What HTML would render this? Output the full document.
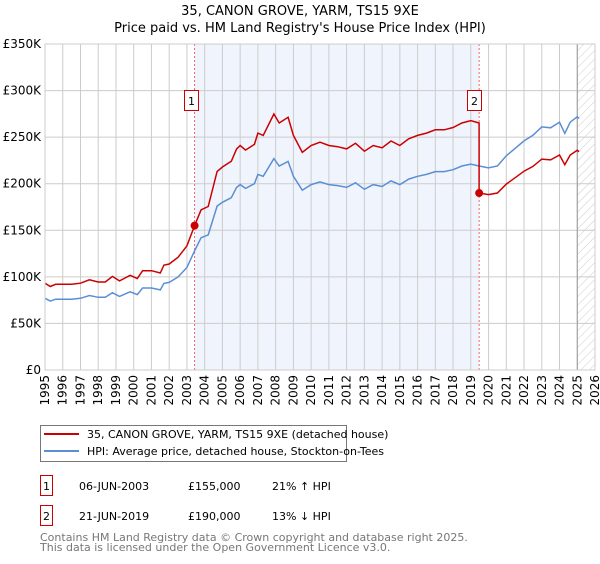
<!DOCTYPE html>
<html><head><meta charset="utf-8"><style>
body{margin:0;background:#fff;width:600px;height:560px;overflow:hidden;font-family:"DejaVu Sans","Liberation Sans",sans-serif;}
svg text{font-family:"DejaVu Sans","Liberation Sans",sans-serif;}
</style></head><body>
<svg id="c" width="600" height="560" xmlns="http://www.w3.org/2000/svg">
<defs><pattern id="hatch" width="6" height="6" patternUnits="userSpaceOnUse" patternTransform="rotate(45)"><line x1="0" y1="0" x2="0" y2="6" stroke="#ccc" stroke-width="1"/></pattern></defs>
<text x="300" y="15" text-anchor="middle" font-size="13">35, CANON GROVE, YARM, TS15 9XE</text>
<text x="300" y="32" text-anchor="middle" font-size="13">Price paid vs. HM Land Registry's House Price Index (HPI)</text>
<g id="plot"></g>
<g>
<rect x="40.5" y="425.5" width="306" height="36" fill="#fff" stroke="#777"/>
<line x1="44" y1="434" x2="79" y2="434" stroke="#cc0000" stroke-width="2"/>
<text x="87" y="438" font-size="11">35, CANON GROVE, YARM, TS15 9XE (detached house)</text>
<line x1="44" y1="451" x2="79" y2="451" stroke="#5b8fd4" stroke-width="2"/>
<text x="87" y="455" font-size="11">HPI: Average price, detached house, Stockton-on-Tees</text>
</g>
<g>
<rect x="40.5" y="475.5" width="12" height="20" fill="#fff" stroke="#cc0000"/>
<text x="46.5" y="490" text-anchor="middle" font-size="11">1</text>
<text x="79" y="490" font-size="11">06-JUN-2003</text>
<text x="188" y="490" font-size="11">£155,000</text>
<text x="272" y="490" font-size="11">21% ↑ HPI</text>
<rect x="40.5" y="505.5" width="12" height="20" fill="#fff" stroke="#cc0000"/>
<text x="46.5" y="520" text-anchor="middle" font-size="11">2</text>
<text x="79" y="520" font-size="11">21-JUN-2019</text>
<text x="188" y="520" font-size="11">£190,000</text>
<text x="272" y="520" font-size="11">13% ↓ HPI</text>
</g>
<text x="40" y="541" font-size="11" fill="#777">Contains HM Land Registry data © Crown copyright and database right 2025.</text>
<text x="40" y="551" font-size="11" fill="#777">This data is licensed under the Open Government Licence v3.0.</text>
</svg>
<script>
const hpiYears=[1995,1995.3,1995.6,1996,1996.5,1997,1997.5,1998,1998.4,1998.8,1999.2,1999.8,2000.2,2000.5,2001,2001.5,2001.7,2002,2002.5,2003,2003.43,2003.8,2004.2,2004.7,2005,2005.5,2005.8,2006,2006.3,2006.8,2007,2007.3,2007.9,2008.2,2008.7,2009,2009.5,2010,2010.5,2011,2011.5,2012,2012.5,2013,2013.5,2014,2014.5,2015,2015.5,2016,2016.5,2017,2017.5,2018,2018.5,2019,2019.47,2020,2020.5,2021,2021.5,2022,2022.5,2023,2023.5,2024,2024.3,2024.6,2025,2025.1];
const hpiValues=[77,74,76,76,76,77,80,78,78,83,79,84,81,88,88,86,93,94,100,110,128,142,145,176,180,185,196,199,195,200,210,208,227,219,224,208,193,199,202,199,198,196,201,194,199,197,203,199,205,208,210,213,213,215,219,221,219,217,219,230,238,246,252,261,260,266,254,266,272,270];
const saleYears=[2003.43,2019.47];
const salePrices=[155,190];
const yTicks=[0,50,100,150,200,250,300,350];
const yTickLabels=["£0","£50K","£100K","£150K","£200K","£250K","£300K","£350K"];
const xTicks=[];for(let y=1995;y<=2026;y++)xTicks.push(y);

const X0=45,X1=595,Y0=370,Y1=44;
const xs=t=>X0+(t-1995)/(2026-1995)*(X1-X0);
const ys=v=>Y0-v/350*(Y0-Y1);
const NS="http://www.w3.org/2000/svg";
const g=document.getElementById('plot');
function mk(tag,attrs){const e=document.createElementNS(NS,tag);for(const k in attrs)e.setAttribute(k,attrs[k]);g.appendChild(e);return e;}
function hpiAt(t){for(let i=0;i<hpiYears.length-1;i++){if(t>=hpiYears[i]&&t<=hpiYears[i+1]){const f=(t-hpiYears[i])/(hpiYears[i+1]-hpiYears[i]);return hpiValues[i]+f*(hpiValues[i+1]-hpiValues[i]);}}return hpiValues[hpiValues.length-1];}

let e;
e=mk('rect',{x:X0,y:Y1,width:X1-X0,height:Y0-Y1,fill:'#fff'});


e=mk('rect',{x:xs(saleYears[0]),y:Y1,width:xs(saleYears[1])-xs(saleYears[0]),height:Y0-Y1,fill:'#f0f4fd'});


e=mk('rect',{x:xs(2025),y:Y1,width:X1-xs(2025),height:Y0-Y1,fill:'url(#hatch)'});


yTicks.forEach((v,i)=>{
 e=mk('line',{x1:X0,x2:X1,y1:ys(v),y2:ys(v),stroke:'#ccc','stroke-width':1});
 
 
 e=mk('text',{x:X0-4,y:ys(v)+4,'text-anchor':'end','font-size':'12'});e.textContent=yTickLabels[i];
 
 
});
xTicks.forEach(t=>{
 e=mk('line',{x1:xs(t),x2:xs(t),y1:Y1,y2:Y0,stroke:'#ccc','stroke-width':1});
 
 
 e=mk('text',{x:0,y:0,'font-size':'12','text-anchor':'end',transform:`translate(${xs(t)+4},${Y0+5}) rotate(-90)`});e.textContent=t;
 
 
});
e=mk('line',{x1:xs(2025),x2:xs(2025),y1:Y1,y2:Y0,stroke:'#999','stroke-width':1});


saleYears.forEach((t,i)=>{
 e=mk('line',{x1:xs(t),x2:xs(t),y1:Y1,y2:Y0,stroke:'#e66','stroke-width':1,'stroke-dasharray':'2,2'});
 
 
});
let d=hpiYears.map((t,i)=>(i?'L':'M')+xs(t).toFixed(1)+','+ys(hpiValues[i]).toFixed(1)).join('');
e=mk('path',{d:d,fill:'none',stroke:'#5b8fd4','stroke-width':1.5});


const r0=salePrices[0]/hpiAt(saleYears[0]), r1=salePrices[1]/hpiAt(saleYears[1]);
let pts=[];
hpiYears.forEach((t,i)=>{
 if(t<saleYears[1]) pts.push([t,hpiValues[i]*r0]);
});
pts.push([saleYears[1],hpiAt(saleYears[1])*r0]);
pts.push([saleYears[1],salePrices[1]]);
hpiYears.forEach((t,i)=>{ if(t>saleYears[1]) pts.push([t,hpiValues[i]*r1]); });
d=pts.map((p,i)=>(i?'L':'M')+xs(p[0]).toFixed(1)+','+ys(p[1]).toFixed(1)).join('');
e=mk('path',{d:d,fill:'none',stroke:'#cc0000','stroke-width':1.5});


const boxOff=[10.5,12];
saleYears.forEach((t,i)=>{
 e=mk('circle',{cx:xs(t),cy:ys(salePrices[i]),r:4,fill:'#cc0000'});
 
 
 const bx=Math.round(xs(t)-boxOff[i])+0.5;
 e=mk('rect',{x:bx,y:90.5,width:14,height:20,fill:'#fff',stroke:'#cc0000'});
 
 
 e=mk('text',{x:bx+7,y:105,'text-anchor':'middle','font-size':'11'});e.textContent=String(i+1);
 
 
});
e=mk('rect',{x:X0,y:Y1,width:X1-X0,height:Y0-Y1,fill:'none',stroke:'#ccc'});


</script>
</body></html>
